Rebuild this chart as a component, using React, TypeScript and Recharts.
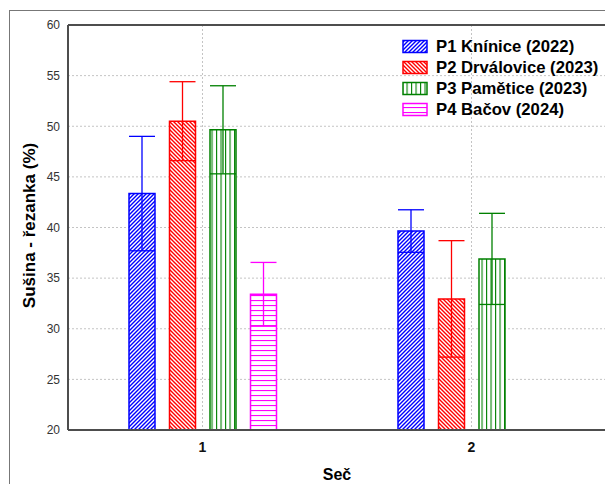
import React from 'react';
import { BarChart, Bar, XAxis, YAxis, CartesianGrid, ErrorBar, Legend, ReferenceLine, Label } from 'recharts';

const categories = ['1', '2'];
const p1Means = [43.35, 39.65];
const p1Errors = [5.65, 2.1];
const p2Means = [50.5, 32.95];
const p2Errors = [3.9, 5.75];
const p3Means = [49.65, 36.9];
const p3Errors = [4.35, 4.5];
const p4Means: (number | null)[] = [33.4, null];
const p4Errors: (number | null)[] = [3.15, null];
const seriesNames = ['P1 Knínice (2022)', 'P2 Drválovice (2023)', 'P3 Pamětice (2023)', 'P4 Bačov (2024)'];
const yTicks = [20, 25, 30, 35, 40, 45, 50, 55, 60];

const FONT = 'Arial, "Liberation Sans", sans-serif';

const data = categories.map((c, i) => ({
  cat: c,
  p1: p1Means[i], e1: p1Errors[i],
  p2: p2Means[i], e2: p2Errors[i],
  p3: p3Means[i], e3: p3Errors[i],
  p4: p4Means[i], e4: p4Errors[i],
}));

const series = [
  { key: 'p1', err: 'e1', name: seriesNames[0], color: '#0000ff', pattern: 'patBlue' },
  { key: 'p2', err: 'e2', name: seriesNames[1], color: '#ff0000', pattern: 'patRed' },
  { key: 'p3', err: 'e3', name: seriesNames[2], color: '#008000', pattern: 'patGreen' },
  { key: 'p4', err: 'e4', name: seriesNames[3], color: '#ff00ff', pattern: 'patPink' },
];

const renderLegend = () => (
  <div style={{ fontFamily: FONT }}>
    {series.map((s) => (
      <div key={s.key} style={{ display: 'flex', alignItems: 'center', height: 21 }}>
        <svg width={27} height={15} style={{ marginRight: 7, display: 'block' }}>
          <rect x={1} y={1.5} width={24} height={12} fill={`url(#${s.pattern})`} stroke={s.color} strokeWidth={1.5} />
        </svg>
        <span style={{ fontSize: 16.7, fontWeight: 'bold', color: '#000', whiteSpace: 'nowrap' }}>{s.name}</span>
      </div>
    ))}
  </div>
);

const YTitle = (props: any) => {
  const vb = props.viewBox || { x: 0, y: 0, width: 0, height: 0 };
  const cx = 29;
  const cy = vb.y + vb.height / 2 - 2;
  return (
    <text x={cx} y={cy} transform={`rotate(-90 ${cx} ${cy})`} textAnchor="middle" dominantBaseline="central"
      style={{ fontFamily: FONT, fontSize: 17, fontWeight: 'bold', fill: '#000' }}>
      Sušina - řezanka (%)
    </text>
  );
};

const XTitle = (props: any) => {
  const vb = props.viewBox || { x: 0, y: 0, width: 0, height: 0 };
  const cx = vb.x + vb.width / 2;
  return (
    <text x={cx} y={474} textAnchor="middle" dominantBaseline="central"
      style={{ fontFamily: FONT, fontSize: 16, fontWeight: 'bold', fill: '#000' }}>
      Seč
    </text>
  );
};

export default function App() {
  return (
    <div style={{ position: 'absolute', left: 0, top: 0, width: 605, height: 484, overflow: 'hidden', background: '#fff' }}>
      <div style={{ position: 'absolute', left: 9, top: 10, width: 700, height: 700, border: '1px solid #777' }} />
      <div style={{ position: 'absolute', left: 0, top: 0 }}>
        <BarChart width={606} height={484} data={data} margin={{ top: 25, right: 0, left: 8, bottom: 0 }}
          barSize={26} barGap={14.5} style={{ fontFamily: FONT }}>
          <defs>
            <pattern id="patBlue" patternUnits="userSpaceOnUse" width="4" height="4">
              <rect width="4" height="4" fill="#ffffff" />
              <path d="M-1,1 l2,-2 M0,4 l4,-4 M3,5 l2,-2" stroke="#0000ff" strokeWidth="1.4" />
            </pattern>
            <pattern id="patRed" patternUnits="userSpaceOnUse" width="4" height="4">
              <rect width="4" height="4" fill="#ffffff" />
              <path d="M-1,3 l2,2 M0,0 l4,4 M3,-1 l2,2" stroke="#ff0000" strokeWidth="1.4" />
            </pattern>
            <pattern id="patGreen" patternUnits="userSpaceOnUse" width="4.5" height="4">
              <rect width="4.5" height="4" fill="#ffffff" />
              <line x1="0.5" y1="0" x2="0.5" y2="4" stroke="#008000" strokeWidth="1.2" />
            </pattern>
            <pattern id="patPink" patternUnits="userSpaceOnUse" width="4" height="5">
              <rect width="4" height="5" fill="#ffffff" />
              <line x1="0" y1="0.5" x2="4" y2="0.5" stroke="#ff00ff" strokeWidth="1.2" />
            </pattern>
          </defs>
          <CartesianGrid stroke="#c4c4c4" strokeDasharray="2 2" />
          <XAxis dataKey="cat" height={54} tickSize={0} tickMargin={12}
            axisLine={{ stroke: '#4d4d4d', strokeWidth: 2 }}
            tick={{ fontSize: 14, fontWeight: 'bold', fill: '#111', fontFamily: FONT }}>
            <Label content={XTitle} />
          </XAxis>
          <YAxis domain={[20, 60]} ticks={yTicks} width={60} tickSize={0} tickMargin={8} interval={0}
            axisLine={{ stroke: '#4d4d4d', strokeWidth: 2 }}
            tick={{ fontSize: 12, fill: '#333', fontFamily: FONT }}>
            <Label content={YTitle} />
          </YAxis>
          <YAxis yAxisId="r" orientation="right" domain={[20, 60]} ticks={yTicks} width={0} mirror tickSize={5}
            axisLine={false} tickLine={{ stroke: '#444' }} tick={() => <g />} />
          <ReferenceLine y={60} stroke="#4d4d4d" strokeWidth={2} />
          {series.map((s) => (
            <Bar key={s.key} dataKey={s.key} name={s.name} fill={`url(#${s.pattern})`} stroke={s.color}
              strokeWidth={1.5} isAnimationActive={false}>
              <ErrorBar dataKey={s.err} width={13} stroke={s.color} strokeWidth={1.3} direction="y" />
            </Bar>
          ))}
          <Legend layout="vertical" align="center" verticalAlign="middle" content={renderLegend}
            wrapperStyle={{ left: 402, top: 36, width: 210, height: 90 }} />
        </BarChart>
      </div>
    </div>
  );
}
